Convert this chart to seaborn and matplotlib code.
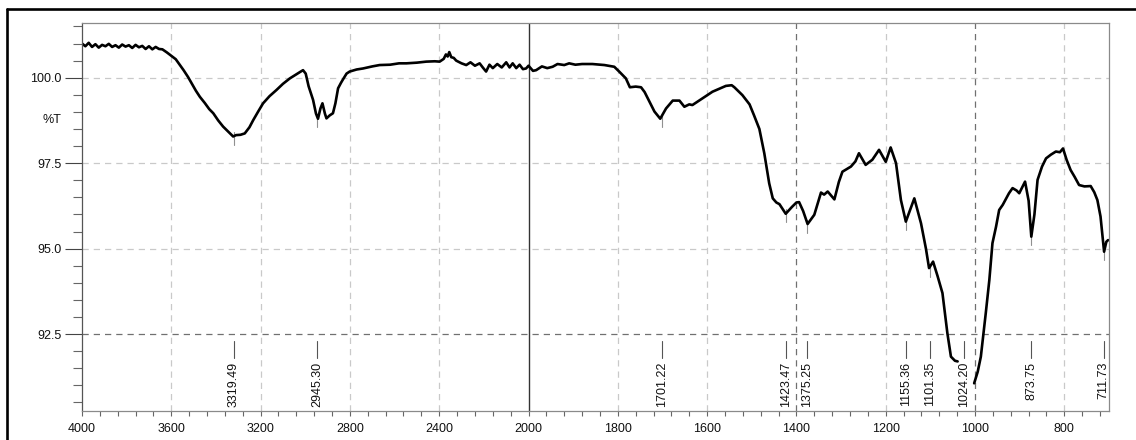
import numpy as np
import pandas as pd
import matplotlib
matplotlib.use("Agg")
import matplotlib.pyplot as plt
from matplotlib.ticker import FixedLocator, FixedFormatter
from matplotlib.lines import Line2D
import seaborn as sns

# IR spectrum: wavenumber (cm-1) and transmittance (%T)
wavenumber_a = [
    4000, 3985, 3970, 3955, 3940, 3925, 3910, 3895, 3880, 3865, 3850, 3835,
    3820, 3805, 3790, 3775, 3760, 3745, 3730, 3715, 3700, 3685, 3670, 3655,
    3640, 3620, 3600, 3580, 3560, 3545, 3525, 3509, 3490, 3472, 3450, 3430,
    3412, 3390, 3368, 3345, 3323, 3310, 3290, 3271, 3250, 3233, 3210, 3189,
    3160, 3129, 3100, 3069, 3045, 3025, 3010, 2998, 2985, 2965, 2952, 2943,
    2932, 2923, 2912, 2905, 2890, 2876, 2865, 2853, 2840, 2831, 2815, 2801,
    2770, 2741, 2700, 2667, 2620, 2580, 2547, 2500, 2458, 2420, 2398, 2380,
    2370, 2362, 2355, 2346, 2335, 2324, 2300, 2279, 2260, 2240, 2219, 2205,
    2190, 2175, 2160, 2140, 2120, 2100, 2085, 2071, 2055, 2040, 2025, 2011,
    2000, 1990, 1983, 1970, 1958, 1946, 1935, 1920, 1909, 1895, 1880, 1857,
    1830, 1808, 1797, 1782, 1773, 1760, 1748, 1740, 1733, 1718, 1705, 1692,
    1677, 1662, 1651, 1640, 1633, 1610, 1588, 1558, 1545, 1539, 1521, 1505,
    1495, 1483, 1472, 1461, 1453, 1445, 1438, 1424, 1410, 1400, 1394, 1385,
    1375, 1360, 1345, 1338, 1330, 1315, 1305, 1297, 1278, 1268, 1260, 1245,
    1230, 1215, 1200, 1189, 1177, 1166, 1155, 1145, 1136, 1121, 1110, 1103,
    1094, 1084, 1073, 1062, 1054, 1045, 1039,
]
transmittance_a = [
    101.00, 100.92, 101.02, 100.90, 100.98, 100.88, 100.96, 100.92, 100.99,
    100.90, 100.95, 100.88, 100.97, 100.91, 100.95, 100.87, 100.96, 100.89,
    100.93, 100.84, 100.92, 100.83, 100.90, 100.84, 100.83, 100.74, 100.64,
    100.54, 100.36, 100.22, 100.02, 99.84, 99.62, 99.44, 99.26, 99.08,
    98.96, 98.75, 98.57, 98.42, 98.28, 98.32, 98.33, 98.37, 98.55, 98.76,
    99.02, 99.25, 99.46, 99.64, 99.82, 99.98, 100.08, 100.16, 100.22, 100.12,
    99.75, 99.35, 98.95, 98.80, 99.10, 99.25, 98.95, 98.81, 98.90, 98.96,
    99.25, 99.69, 99.85, 99.95, 100.12, 100.18, 100.24, 100.27, 100.33,
    100.37, 100.38, 100.42, 100.42, 100.44, 100.47, 100.48, 100.47, 100.55,
    100.68, 100.62, 100.75, 100.60, 100.58, 100.50, 100.42, 100.37, 100.45,
    100.35, 100.42, 100.30, 100.18, 100.38, 100.28, 100.40, 100.30, 100.45,
    100.30, 100.42, 100.28, 100.38, 100.25, 100.27, 100.35, 100.20, 100.22,
    100.33, 100.28, 100.32, 100.40, 100.37, 100.42, 100.38, 100.40, 100.40,
    100.37, 100.32, 100.18, 99.98, 99.72, 99.74, 99.72, 99.58, 99.40, 99.01,
    98.80, 99.10, 99.33, 99.33, 99.15, 99.22, 99.20, 99.40, 99.59, 99.76,
    99.78, 99.72, 99.49, 99.22, 98.90, 98.50, 97.79, 96.91, 96.47, 96.35,
    96.30, 96.02, 96.22, 96.35, 96.36, 96.10, 95.72, 95.99, 96.64, 96.58,
    96.67, 96.44, 96.95, 97.25, 97.40, 97.55, 97.79, 97.45, 97.60, 97.89,
    97.54, 97.96, 97.50, 96.42, 95.79, 96.15, 96.47, 95.74, 95.00, 94.43,
    94.62, 94.20, 93.70, 92.53, 91.84, 91.72, 91.70,
]
wavenumber_b = [
    1002, 994, 987, 976, 968, 961, 953, 946, 938, 924, 916, 907, 901, 888,
    880, 874, 867, 860, 850, 841, 830, 819, 810, 803, 795, 786, 777, 767,
    755, 741, 733, 726, 719, 711, 706, 702,
]
transmittance_b = [
    91.06, 91.40, 91.84, 93.11, 94.08, 95.16, 95.64, 96.13, 96.28, 96.62,
    96.77, 96.70, 96.62, 96.96, 96.40, 95.35, 96.00, 97.01, 97.40, 97.64,
    97.75, 97.84, 97.82, 97.93, 97.60, 97.30, 97.10, 96.86, 96.82, 96.83,
    96.65, 96.42, 95.94, 94.91, 95.20, 95.25,
]

# Picked peaks
peak_wn = [3319.49, 2945.30, 1701.22, 1423.47, 1375.25, 1155.36, 1101.35,
           1024.20, 873.75, 711.73]
peak_t = [98.28, 98.80, 98.80, 96.02, 95.72, 95.79, 94.43, np.nan, 95.35, 94.91]

x_major = [4000, 3600, 3200, 2800, 2400, 2000, 1800, 1600, 1400, 1200, 1000, 800]
y_major = [92.5, 95.0, 97.5, 100.0]
y_labels = ["92.5", "95.0", "97.5", "100.0"]

df = pd.concat([
    pd.DataFrame({"wn": wavenumber_a, "T": transmittance_a, "seg": 0}),
    pd.DataFrame({"wn": wavenumber_b, "T": transmittance_b, "seg": 1}),
], ignore_index=True)

sns.set_style("white")
plt.rcParams["font.family"] = ["Liberation Sans", "DejaVu Sans"]
plt.rcParams["font.size"] = 9

fig = plt.figure(figsize=(11.36, 4.40), dpi=100)
ax = fig.add_axes([82 / 1136, 1 - 411 / 440, 1027 / 1136, 388 / 440])


# Wavenumber axis expanded 2x below 2000 cm-1
def fwd(x):
    x = np.asarray(x, dtype=float)
    return np.where(x >= 2000, x, 2 * x - 2000)


def inv(u):
    u = np.asarray(u, dtype=float)
    return np.where(u >= 2000, u, (u + 2000) / 2)


ax.set_xscale("function", functions=(fwd, inv))

sns.lineplot(data=df, x="wn", y="T", units="seg", estimator=None, sort=False,
             color="black", linewidth=1.9, ax=ax, legend=False)

ax.set_xlim(4000, 700)
ax.set_ylim(90.25, 101.6)

# grid
light = "#c9c9c9"
dark = "#707070"
for xv in x_major[1:]:
    if xv == 2000:
        ax.axvline(xv, color="#333333", lw=1.0, zorder=0)
    else:
        ax.axvline(xv, color=dark if xv in (1400, 1000) else light,
                   lw=0.9, ls=(0, (5, 4)), zorder=0)
for yv in y_major:
    ax.axhline(yv, color=dark if yv == 92.5 else light, lw=0.9,
               ls=(0, (5, 4)), zorder=0)

# peak markers and labels
for w, t in zip(peak_wn, peak_t):
    if not np.isnan(t):
        ax.plot([w, w], [t + 0.13, t - 0.25], color="#909090", lw=0.8, zorder=1)
    ax.plot([w, w], [92.31, 91.80], color="#555555", lw=0.8)
    ax.text(w, 91.68, f"{w:.2f}", rotation=90, ha="center", va="top",
            fontsize=9, color="#111111")

# ticks
minor_x = [v for v in range(3920, 2000, -80) if v not in x_major]
minor_x += [v for v in range(1960, 700, -40) if v not in x_major]
ax.xaxis.set_major_locator(FixedLocator(x_major))
ax.xaxis.set_major_formatter(FixedFormatter([str(v) for v in x_major]))
ax.xaxis.set_minor_locator(FixedLocator(minor_x))
ax.yaxis.set_major_locator(FixedLocator(y_major))
ax.yaxis.set_major_formatter(FixedFormatter(y_labels))
ax.yaxis.set_minor_locator(FixedLocator(np.arange(90.5, 101.6, 0.5)))
ax.tick_params(axis="x", which="both", direction="out", length=3.6, width=0.8,
               color="#666666", pad=5, labelsize=9, labelcolor="#111111")
ax.tick_params(axis="y", which="major", direction="out", length=12, width=0.8,
               color="#444444", pad=3, labelsize=9, labelcolor="#111111")
ax.tick_params(axis="y", which="minor", direction="out", length=6.5, width=0.8,
               color="#666666")
ax.tick_params(left=True, bottom=True, which="both")
ax.set_xlabel("")
ax.set_ylabel("")
ax.annotate("%T", xy=(0, 98.75), xycoords=("axes fraction", "data"),
            xytext=(-15, 0), textcoords="offset points", ha="right",
            va="center", fontsize=9, color="#111111")

for name, sp in ax.spines.items():
    sp.set_visible(True)
    sp.set_color("#555555" if name == "left" else "#8a8a8a")
    sp.set_linewidth(0.9)

# outer frame
fig.add_artist(Line2D([7 / 1136, 7 / 1136], [0, 1 - 9 / 440], color="black",
                      lw=1.9, transform=fig.transFigure))
fig.add_artist(Line2D([7 / 1136, 1], [1 - 9 / 440, 1 - 9 / 440], color="black",
                      lw=1.9, transform=fig.transFigure))

fig.savefig("out.png", dpi=100)
